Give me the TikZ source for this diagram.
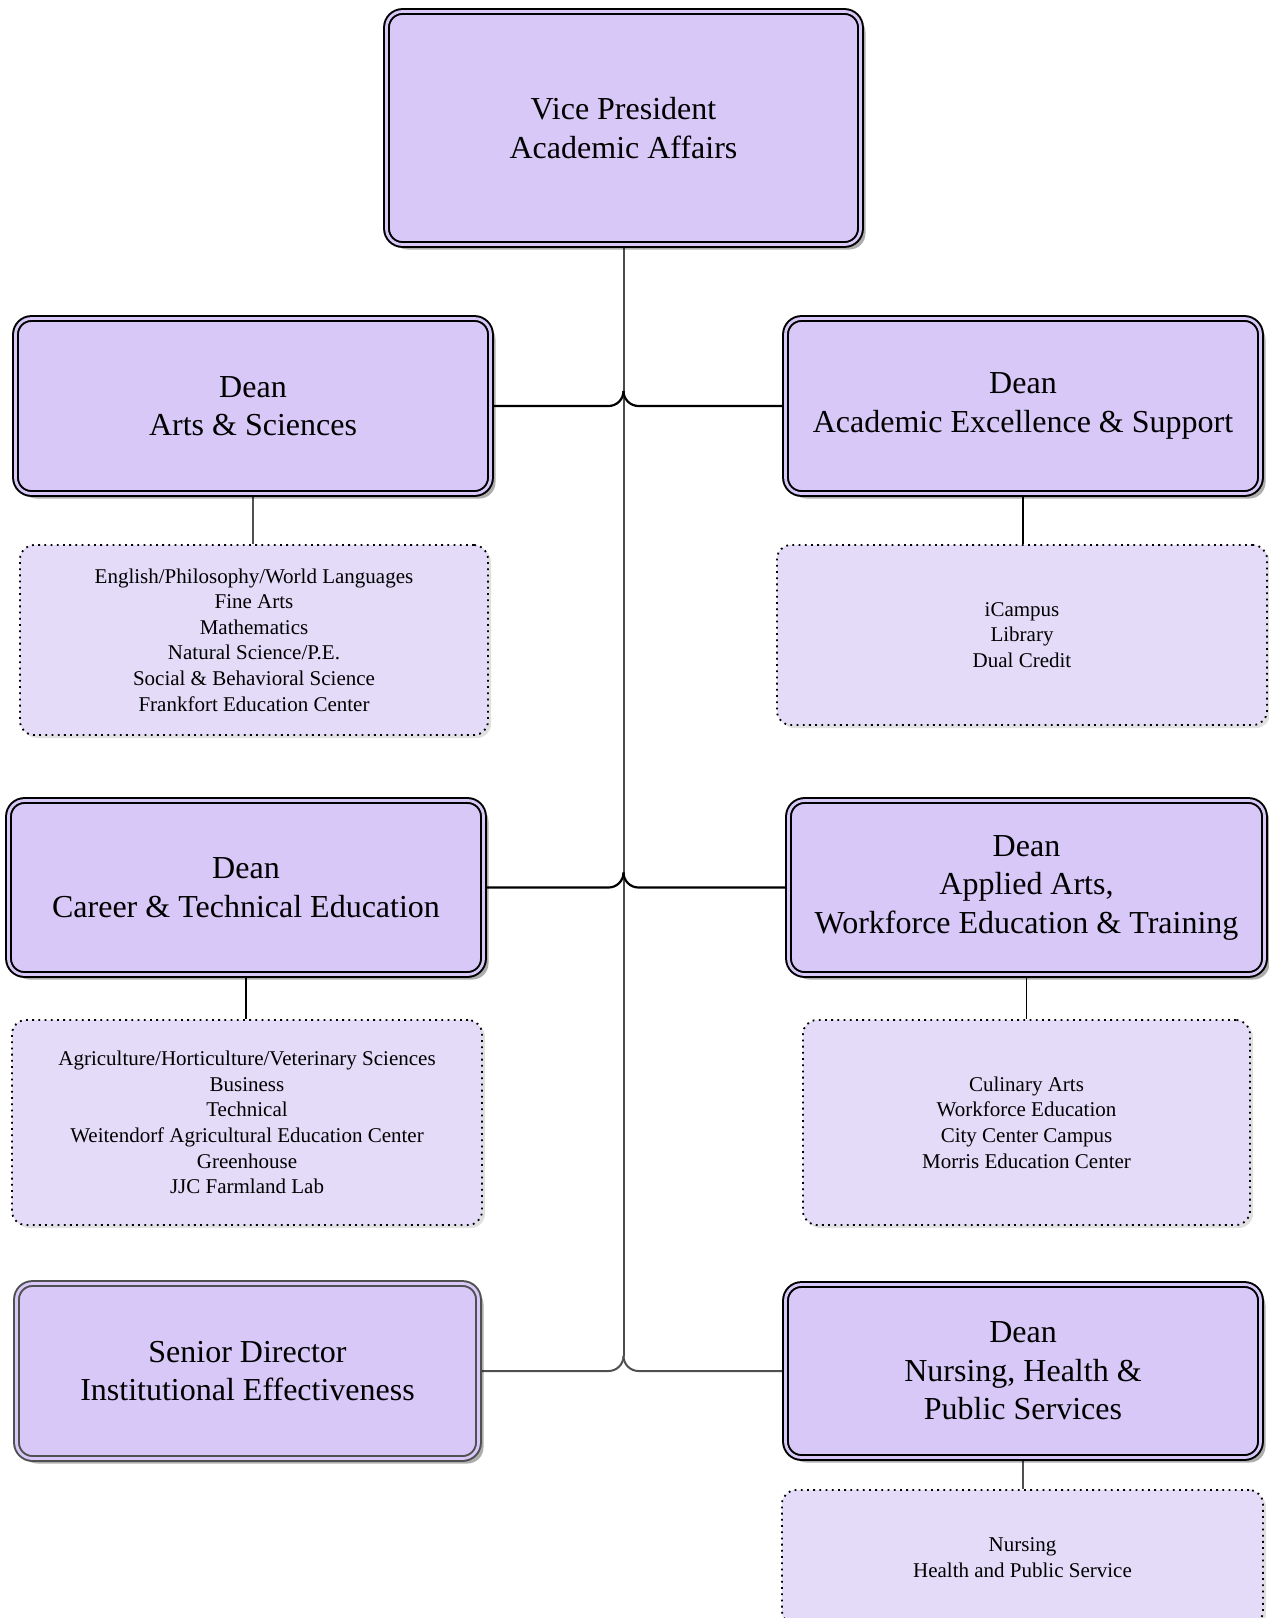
\documentclass[tikz,border=0pt]{standalone}
\usepackage{fontspec}
\setmainfont{Liberation Serif}
\usetikzlibrary{shadows,backgrounds}

\definecolor{boxfill}{HTML}{D7C8F7}
\definecolor{unitfill}{HTML}{E3DBF8}
\definecolor{spinegray}{HTML}{4A4A4A}
\definecolor{framegray}{HTML}{505050}

\tikzset{
  office/.style={rectangle, rounded corners=16pt, draw=black, line width=2pt,
    double=boxfill, double distance=2.8pt, fill=boxfill, inner sep=0pt,
    align=center, font=\fontsize{32}{38.5}\selectfont,
    drop shadow={shadow xshift=5pt, shadow yshift=-5pt, fill=black, opacity=0.32}},
  grayoffice/.style={office, draw=framegray},
  units/.style={rectangle, rounded corners=14pt, draw=black, line width=1.8pt,
    dash pattern=on 1.8pt off 4.4pt, fill=unitfill, inner sep=0pt,
    align=center, font=\fontsize{21}{25.6}\selectfont,
    drop shadow={shadow xshift=3pt, shadow yshift=-3pt, fill=black, opacity=0.12}},
  spine/.style={draw=spinegray, line width=2pt},
  link/.style={draw=black, line width=2.2pt, rounded corners=15pt},
  graylink/.style={draw=framegray, line width=2pt, rounded corners=15pt},
  sub/.style={draw=black, line width=1.8pt},
  graysub/.style={draw=framegray, line width=1.8pt},
}

\begin{document}
\begin{tikzpicture}[x=1pt, y=-1pt]
\useasboundingbox (0,0) rectangle (1269,1618);
\begin{pgfonlayer}{background}
  \fill[white] (0,0) rectangle (1269,1618);
\end{pgfonlayer}

% offices
\node[office, minimum width=474pt, minimum height=233pt] (vp) at (623.5,128) {Vice President\\Academic Affairs};

\node[office, minimum width=475pt, minimum height=175pt] (arts) at (253,406) {Dean\\Arts \& Sciences};
\node[office, minimum width=475pt, minimum height=175pt] (acad) at (1023,406) {Dean\\Academic Excellence \& Support};

\node[office, minimum width=475pt, minimum height=174pt] (cte) at (246,887.5) {Dean\\Career \& Technical Education};
\node[office, minimum width=476pt, minimum height=174pt] (aawe) at (1026.5,887.5) {Dean\\Applied Arts,\\Workforce Education \& Training};

\node[grayoffice, minimum width=462pt, minimum height=175pt] (ie) at (247.5,1371) {Senior Director\\Institutional Effectiveness};
\node[office, minimum width=475pt, minimum height=173pt] (nhps) at (1023,1371) {Dean\\Nursing, Health \&\\Public Services};

% departments
\node[units, minimum width=468pt, minimum height=190pt] (artsu) at (254,640)
  {English/Philosophy/World Languages\\Fine Arts\\Mathematics\\Natural Science/P.E.\\Social \& Behavioral Science\\Frankfort Education Center};
\node[units, minimum width=490pt, minimum height=180pt] (acadu) at (1022,635)
  {iCampus\\Library\\Dual Credit};
\node[units, minimum width=470pt, minimum height=205pt] (cteu) at (247,1122.5)
  {Agriculture/Horticulture/Veterinary Sciences\\Business\\Technical\\Weitendorf Agricultural Education Center\\Greenhouse\\JJC Farmland Lab};
\node[units, minimum width=447pt, minimum height=205pt] (aaweu) at (1026.5,1122.5)
  {Culinary Arts\\Workforce Education\\City Center Campus\\Morris Education Center};
\node[units, minimum width=481pt, minimum height=135pt] (nhpsu) at (1022.5,1557.5)
  {Nursing\\Health and Public Service};

% connectors
\begin{pgfonlayer}{background}
  \coordinate (s1) at (vp.south |- arts.east);
  \coordinate (s2) at (vp.south |- cte.east);
  \coordinate (s3) at (vp.south |- ie.east);
  \draw[spine] (vp.south) -- ([yshift=15pt]s3);
  \draw[link] (arts.east) -- (s1) -- ([yshift=15pt]s1);
  \draw[link] (acad.west) -- (s1) -- ([yshift=15pt]s1);
  \draw[link] (cte.east) -- (s2) -- ([yshift=15pt]s2);
  \draw[link] (aawe.west) -- (s2) -- ([yshift=15pt]s2);
  \draw[graylink] (ie.east) -- (s3) -- ([yshift=15pt]s3);
  \draw[graylink] (nhps.west) -- (s3) -- ([yshift=15pt]s3);
  \draw[graysub] (arts.south) -- (arts.south |- artsu.north);
  \draw[sub] (acad.south) -- (acad.south |- acadu.north);
  \draw[sub] (cte.south) -- (cte.south |- cteu.north);
  \draw[sub] (aawe.south) -- (aawe.south |- aaweu.north);
  \draw[graysub] (nhps.south) -- (nhps.south |- nhpsu.north);
\end{pgfonlayer}
\end{tikzpicture}
\end{document}
